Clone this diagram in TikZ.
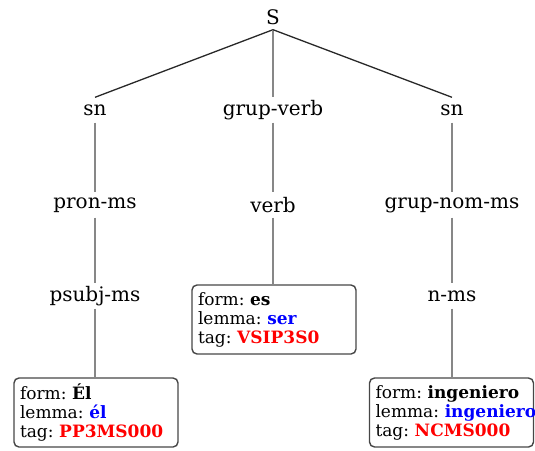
\documentclass[tikz,border=0pt]{standalone}
\usepackage{fontspec}
\setmainfont{DejaVu Serif}
\frenchspacing
\definecolor{lemmablue}{RGB}{0,0,255}
\definecolor{tagred}{RGB}{255,0,0}
\definecolor{edgegray}{RGB}{135,135,135}
\definecolor{diaggray}{RGB}{40,40,40}
\definecolor{boxgray}{RGB}{70,70,70}
\begin{document}
\begin{tikzpicture}[x=1pt,y=-1pt,
  lab/.style={font=\fontsize{20}{23}\selectfont, inner sep=0pt, minimum height=25pt},
  leafbox/.style={draw=boxgray, line width=1.4pt, rounded corners=5pt, minimum width=164pt, minimum height=69pt,
    text width=152pt, align=left, inner sep=0pt, font=\fontsize{17}{19}\selectfont\frenchspacing},
  vedge/.style={draw=edgegray, line width=2.2pt},
  dedge/.style={draw=diaggray, line width=1.3pt}]
\useasboundingbox (0,0) rectangle (535,450);
% labels
\node[lab] (S) at (273,17) {S};
\node[lab] (sn1) at (95,110) {sn};
\node[lab] (gv) at (273,110) {grup-verb};
\node[lab] (sn2) at (452,110) {sn};
\node[lab] (pron) at (95,205) {pron-ms};
\node[lab] (verb) at (273,205) {verb};
\node[lab] (gnom) at (452,205) {grup-nom-ms};
\node[lab] (psubj) at (95,296) {psubj-ms};
\node[lab] (nms) at (452,296) {n-ms};
% leaf boxes
\node[leafbox] (b1) at (96,412.5) {\mbox{form: \textbf{Él}}\\\mbox{lemma: \textcolor{lemmablue}{\textbf{él}}}\\\mbox{tag: \textcolor{tagred}{\textbf{PP3MS000}}}};
\node[leafbox] (b2) at (274,319.5) {\mbox{form: \textbf{es}}\\\mbox{lemma: \textcolor{lemmablue}{\textbf{ser}}}\\\mbox{tag: \textcolor{tagred}{\textbf{VSIP3S0}}}};
\node[leafbox] (b3) at (451.5,412.5) {\mbox{form: \textbf{ingeniero}}\\\mbox{lemma: \textcolor{lemmablue}{\textbf{ingeniero}}}\\\mbox{tag: \textcolor{tagred}{\textbf{NCMS000}}}};
% edges
\draw[dedge] (S.south) -- (sn1.north);
\draw[vedge] (S.south) -- (gv.north);
\draw[dedge] (S.south) -- (sn2.north);
\draw[vedge] (sn1) -- (pron);
\draw[vedge] (pron) -- (psubj);
\draw[vedge] (psubj.south) -- (b1.north -| psubj.south);
\draw[vedge] (gv) -- (verb);
\draw[vedge] (verb.south) -- (b2.north -| verb.south);
\draw[vedge] (sn2) -- (gnom);
\draw[vedge] (gnom) -- (nms);
\draw[vedge] (nms.south) -- (b3.north -| nms.south);
\end{tikzpicture}
\end{document}
